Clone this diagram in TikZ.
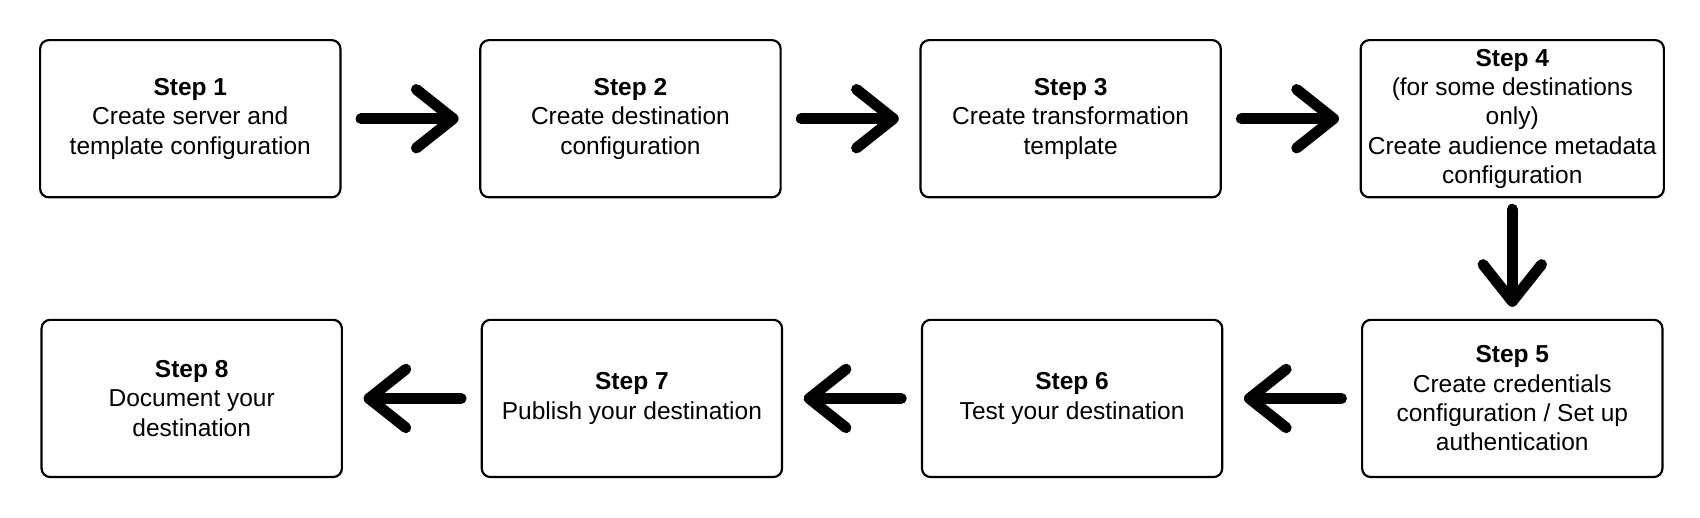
\documentclass[tikz,border=0pt]{standalone}
\usepackage{fontspec}
\setmainfont{Liberation Sans}
\usetikzlibrary{positioning,arrows.meta}

\tikzset{
  stepbox/.style={draw, line width=1pt, rounded corners=4pt,
    minimum width=138.5pt, minimum height=72.5pt, align=center,
    font=\fontsize{11.3pt}{13.5pt}\selectfont},
  flow/.style={line width=5pt, line cap=round,
    -{Straight Barb[length=17pt,width=27pt,round]}}
}

\begin{document}
\begin{tikzpicture}[x=0.5pt,y=-0.5pt, node distance=55.5pt and 63.5pt]
  \useasboundingbox (0,0) rectangle (1568,477);
  % first row, left to right
  \node[stepbox] (s1) at (175.5,109.5) {\textbf{Step 1}\\Create server and\\template configuration};
  \node[stepbox, right=of s1] (s2) {\textbf{Step 2}\\Create destination\\configuration};
  \node[stepbox, right=of s2] (s3) {\textbf{Step 3}\\Create transformation\\template};
  \node[stepbox, right=of s3] (s4) {\textbf{Step 4}\\(for some destinations\\only)\\Create audience metadata\\configuration};
  % second row, right to left
  \node[stepbox, below=of s4] (s5) {\textbf{Step 5}\\Create credentials\\configuration / Set up\\authentication};
  \node[stepbox, left=of s5] (s6) {\textbf{Step 6}\\Test your destination};
  \node[stepbox, left=of s6] (s7) {\textbf{Step 7}\\Publish your destination};
  \node[stepbox, left=of s7] (s8) {\textbf{Step 8}\\Document your\\destination};
  \path[flow, shorten <=9pt, shorten >=9.5pt]
    (s1) edge (s2)
    (s2) edge (s3)
    (s3) edge (s4)
    (s5) edge (s6)
    (s6) edge (s7)
    (s7) edge (s8);
  \draw[flow, shorten <=5pt, shorten >=5.5pt] (s4) -- (s5);
\end{tikzpicture}
\end{document}
